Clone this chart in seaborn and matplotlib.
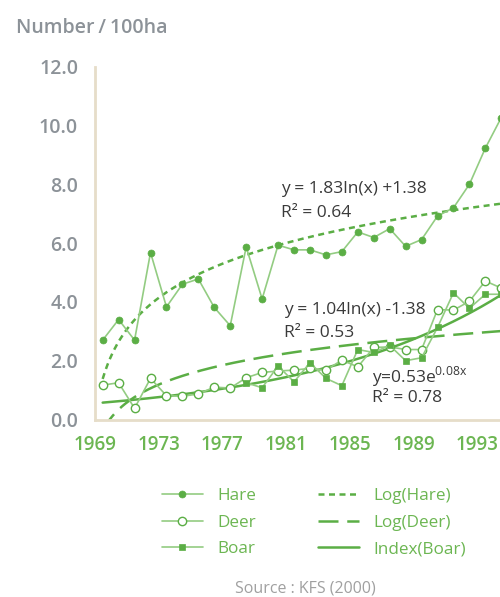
import numpy as np
import pandas as pd
import matplotlib.pyplot as plt
import seaborn as sns

# data (Number / 100ha)
years = list(range(1969, 1995))
hare = [2.70, 3.40, 2.70, 5.68, 3.83, 4.60, 4.78, 3.81, 3.19, 5.87, 4.10, 5.93, 5.77,
        5.77, 5.60, 5.71, 6.38, 6.19, 6.49, 5.89, 6.12, 6.92, 7.20, 8.00, 9.23, 10.27]
deer = [1.17, 1.25, 0.38, 1.40, 0.81, 0.79, 0.87, 1.10, 1.07, 1.42, 1.60, 1.65, 1.68,
        1.74, 1.68, 2.02, 1.79, 2.45, 2.47, 2.38, 2.38, 3.74, 3.72, 4.02, 4.71, 4.47]
boar_years = list(range(1978, 1995))
boar = [1.25, 1.08, 1.82, 1.28, 1.93, 1.40, 1.15, 2.38, 2.28, 2.52, 2.00, 2.10, 3.13,
        4.31, 3.78, 4.26, 4.26]

# trendline coefficients (x = 1 for 1969)
hare_log = (1.83, 1.38)
deer_log = (1.04, -0.38)
boar_exp = (0.53, 0.08)

tick_years = [1969, 1973, 1977, 1981, 1985, 1989, 1993]
y_ticks = [0, 2, 4, 6, 8, 10, 12]

dark_green = "#5BAE45"
light_green = "#93CC82"
label_green = "#6CB652"
gray = "#8C9298"
spine_col = "#E6DDC9"
text_dark = "#3A3A3A"

sns.set_style("white")
plt.rcParams["font.family"] = ["Open Sans", "DejaVu Sans"]

df = pd.DataFrame({"year": years, "hare": hare, "deer": deer})
df_boar = pd.DataFrame({"year": boar_years, "boar": boar})

t = np.linspace(1, 31, 400)
trend = pd.DataFrame({
    "year": 1968 + t,
    "hare": hare_log[0] * np.log(t) + hare_log[1],
    "deer": deer_log[0] * np.log(t) + deer_log[1],
    "boar": boar_exp[0] * np.exp(boar_exp[1] * t),
})

fig = plt.figure(figsize=(5, 5.97), dpi=100)
ax = fig.add_axes([0.1894, 0.2973, 0.9886, 0.591])

# trendlines
sns.lineplot(data=trend, x="year", y="hare", ax=ax, color=dark_green, lw=1.8,
             linestyle=(0, (2.4, 1.8)), label="Log(Hare)")
sns.lineplot(data=trend, x="year", y="deer", ax=ax, color=dark_green, lw=1.8,
             linestyle=(0, (8, 3.5)), label="Log(Deer)")
sns.lineplot(data=trend, x="year", y="boar", ax=ax, color=dark_green, lw=1.8,
             label="Index(Boar)")

# observed series
sns.lineplot(data=df, x="year", y="hare", ax=ax, color=light_green, lw=1.2,
             marker="o", markersize=5, markerfacecolor=dark_green,
             markeredgecolor=dark_green, markeredgewidth=0.5, label="Hare")
sns.lineplot(data=df, x="year", y="deer", ax=ax, color=light_green, lw=1.2,
             marker="o", markersize=6, markerfacecolor="white",
             markeredgecolor=dark_green, markeredgewidth=1.0, label="Deer")
sns.lineplot(data=df_boar, x="year", y="boar", ax=ax, color=light_green, lw=1.2,
             marker="s", markersize=5, markerfacecolor=dark_green,
             markeredgecolor=dark_green, markeredgewidth=0.5, label="Boar")

ax.set_xlim(1968.5, 1999.5)
ax.set_ylim(0, 12)
ax.set_xticks([y - 0.5 for y in tick_years])
ax.set_xticklabels([str(y) for y in tick_years], fontweight="semibold")
ax.set_yticks(y_ticks)
ax.set_yticklabels([f"{v:.1f}" for v in y_ticks], fontweight="semibold")
ax.set_xlabel("")
ax.set_ylabel("")

for s in ["top", "right"]:
    ax.spines[s].set_visible(False)
for s in ["left", "bottom"]:
    ax.spines[s].set_color(spine_col)
    ax.spines[s].set_linewidth(2)

ax.tick_params(axis="y", colors=spine_col, length=6, width=2, pad=6,
               labelcolor=gray, labelsize=14)
ax.tick_params(axis="x", colors=spine_col, length=6, width=2, pad=5,
               labelcolor=label_green, labelsize=13.5)

# equations
eq_size = 12.5
ax.text(1980.2, 7.83, "y = 1.83ln(x) +1.38", color=text_dark, fontsize=eq_size, va="center")
ax.text(1980.2, 7.01, "R² = 0.64", color=text_dark, fontsize=eq_size, va="center")
ax.text(1980.35, 3.72, "y = 1.04ln(x) -1.38", color=text_dark, fontsize=eq_size, va="center")
ax.text(1980.35, 2.94, "R² = 0.53", color=text_dark, fontsize=eq_size, va="center")
ax.text(1985.9, 1.45, "y=0.53e$^{\\mathregular{0.08x}}$", color=text_dark, fontsize=eq_size, va="center")
ax.text(1985.9, 0.72, "R² = 0.78", color=text_dark, fontsize=eq_size, va="center")

# legend below the plot
handles, labels = ax.get_legend_handles_labels()
order = ["Hare", "Deer", "Boar", "Log(Hare)", "Log(Deer)", "Index(Boar)"]
hmap = dict(zip(labels, handles))
ax.get_legend().remove()
fig.legend([hmap[k] for k in order], order, ncol=2, frameon=False,
           loc="upper left", bbox_to_anchor=(0.306, 0.197), borderpad=0,
           fontsize=12.3, labelcolor=label_green, handlelength=2.4,
           handletextpad=0.85, columnspacing=3.65, labelspacing=0.62)

fig.text(0.032, 0.945, "Number\u2009/\u2009100ha", color=gray, fontsize=14, fontweight="semibold")
fig.text(0.61, 0.008, "Source : KFS (2000)", color="#A0A0A0", fontsize=11.5, ha="center")

fig.savefig("out.png", dpi=100)
